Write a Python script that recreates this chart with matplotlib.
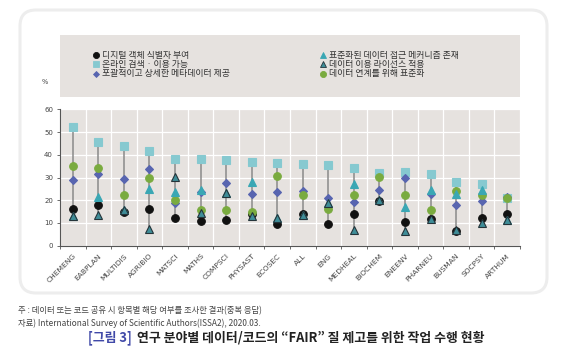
import numpy as np
import matplotlib
matplotlib.use('Agg')
import matplotlib.pyplot as plt
from matplotlib.patches import FancyBboxPatch, Rectangle

plt.rcParams['font.family'] = ['Noto Sans CJK KR', 'DejaVu Sans']

categories = ['CHEMENG', 'EABPLAN', 'MULTIDIS', 'AGRIBIO', 'MATSCI', 'MATHS',
              'COMPSCI', 'PHYSAST', 'ECOSEC', 'ALL', 'ENG', 'MEDHEAL',
              'BIOCHEM', 'ENEENV', 'PHARNEU', 'BUSMAN', 'SOCPSY', 'ARTHUM']

# % of respondents per action
pid = [16.1, 17.8, 14.7, 16.0, 12.2, 10.9, 11.3, 13.8, 9.5,
       13.8, 9.7, 13.8, 19.7, 10.3, 11.9, 6.5, 12.2, 14.1]
online = [52.2, 45.6, 44.0, 41.5, 38.3, 38.0, 37.5, 36.8, 36.5,
          36.1, 35.4, 34.3, 32.1, 32.3, 31.5, 28.0, 27.1, 21.2]
metadata = [29.0, 31.4, 29.2, 33.6, 19.0, 23.8, 27.4, 22.6, 23.6,
            24.1, 20.8, 19.1, 24.4, 29.7, 22.7, 17.8, 19.8, 21.4]
access = [13.2, 21.4, 15.8, 24.8, 23.6, 24.6, 23.0, 28.0, 12.3,
          13.4, 18.7, 27.0, 20.0, 17.2, 24.6, 22.9, 24.4, 11.4]
license_ = [13.2, 13.4, 15.5, 7.5, 30.2, 14.4, 23.3, 13.2, 12.3,
            13.4, 18.7, 6.9, 20.0, 6.6, 11.6, 7.0, 10.1, 11.2]
interop = [35.1, 34.3, 22.3, 29.9, 20.0, 15.6, 15.5, 14.8, 30.5,
           22.2, 16.0, 22.5, 30.2, 22.5, 15.7, 24.2, 22.3, 21.0]

labels = ['디지털 객체 식별자 부여', '온라인 검색 · 이용 가능',
          '포괄적이고 상세한 메타데이터 제공', '표준화된 데이터 접근 메커니즘 존재',
          '데이터 이용 라이선스 적용', '데이터 연계를 위해 표준화']

# style per series: marker, size, face, edge
styles = {
    'pid': ('o', 5.5, '#111111', '#111111'),
    'online': ('s', 5.6, '#86c9d0', '#86c9d0'),
    'metadata': ('D', 3.8, '#5865b0', '#5865b0'),
    'access': ('^', 5.3, '#3aa7b4', '#3aa7b4'),
    'license': ('^', 5.3, '#3f8d98', '#25343a'),
    'interop': ('o', 5.5, '#7aab3f', '#7aab3f'),
}

fig = plt.figure(figsize=(5.69, 3.53), dpi=100)

# outer rounded frame
frame = FancyBboxPatch((0.20, 0.60), 5.27, 2.83,
                       boxstyle='round,pad=0,rounding_size=0.16',
                       transform=fig.dpi_scale_trans, facecolor='white',
                       edgecolor='#ededed', linewidth=2.2, zorder=0)
fig.add_artist(frame)

bg = '#e6e2df'
ax = fig.add_axes([60 / 569, 1 - 245.7 / 353, 460 / 569, 136.4 / 353])
ax.set_facecolor(bg)

x = np.arange(len(categories))
allv = np.array([pid, online, metadata, access, license_, interop])
ax.vlines(x, allv.min(axis=0), allv.max(axis=0), color='#8a8a8a', lw=1.1, zorder=2)

order = [('online', online), ('pid', pid), ('metadata', metadata),
         ('interop', interop), ('access', access), ('license', license_)]
for z, (k, vals) in enumerate(order):
    m, ms, fc, ec = styles[k]
    ax.plot(x, vals, ls='none', marker=m, ms=ms, mfc=fc, mec=ec, mew=0.8,
            zorder=3 + z)

ax.set_xlim(-0.5, len(categories) - 0.5)
ax.set_ylim(0, 60)
ax.set_yticks(range(0, 61, 10))
ax.set_xticks(x)
ax.set_xticklabels(categories, rotation=45, ha='right', rotation_mode='anchor',
                   fontsize=5.4, color='#444444', family='DejaVu Sans')
ax.set_xticks(np.arange(-0.5, len(categories), 1), minor=True)
ax.tick_params(axis='x', which='major', length=0, pad=5)
ax.tick_params(axis='x', which='minor', length=2.5, color='#555555', width=0.6)
ax.tick_params(axis='y', length=2, color='#555555', width=0.6, labelsize=5,
               labelcolor='#444444', pad=3)
for t in ax.get_yticklabels():
    t.set_family('DejaVu Sans')
ax.grid(axis='y', color='white', lw=0.9)
ax.grid(axis='x', which='minor', color='white', lw=0.9)
ax.set_axisbelow(True)
for s in ['top', 'right']:
    ax.spines[s].set_visible(False)
for s in ['left', 'bottom']:
    ax.spines[s].set_color('#555555')
    ax.spines[s].set_linewidth(0.8)

fig.text(45 / 569, 1 - 82 / 353, '%', fontsize=4.8, color='#444444',
         ha='center', va='center', family='DejaVu Sans')

# legend box
lax = fig.add_axes([60 / 569, 1 - 97 / 353, 460 / 569, 62 / 353])
lax.set_xlim(0, 460)
lax.set_ylim(62, 0)
lax.axis('off')
lax.add_patch(Rectangle((0, 0), 460, 62, facecolor=bg, edgecolor='none'))
leg_keys = ['pid', 'online', 'metadata', 'access', 'license', 'interop']
for i, (k, lab) in enumerate(zip(leg_keys, labels)):
    col, row = divmod(i, 3)
    lx = 36 if col == 0 else 263
    ly = 20 + row * 9.3
    m, ms, fc, ec = styles[k]
    lax.plot([lx], [ly], marker=m, ms=ms * 0.8, mfc=fc, mec=ec, mew=0.6,
             ls='none')
    lax.text(lx + 6, ly, lab, fontsize=6.4, color='#333333', va='center',
             ha='left')

fig.text(18 / 569, 1 - 311 / 353, '주 : 데이터 또는 코드 공유 시 항목별 해당 여부를 조사한 결과(중복 응답)',
         fontsize=6, color='#444444', va='center')
fig.text(18 / 569, 1 - 323 / 353, '자료) International Survey of Scientific Authors(ISSA2), 2020.03.',
         fontsize=6, color='#444444', va='center')

t1 = fig.text(88 / 569, 1 - 338 / 353, '[그림 3]', fontsize=9.3, color='#4049a8',
              fontweight='bold', va='center')
fig.canvas.draw()
bb = t1.get_window_extent()
fig.text(bb.x1 / fig.bbox.width + 5 / 569, 1 - 338 / 353,
         '연구 분야별 데이터/코드의 “FAIR” 질 제고를 위한 작업 수행 현황',
         fontsize=9.3, color='#222222', fontweight='bold', va='center')

fig.savefig('out.png', dpi=100)
